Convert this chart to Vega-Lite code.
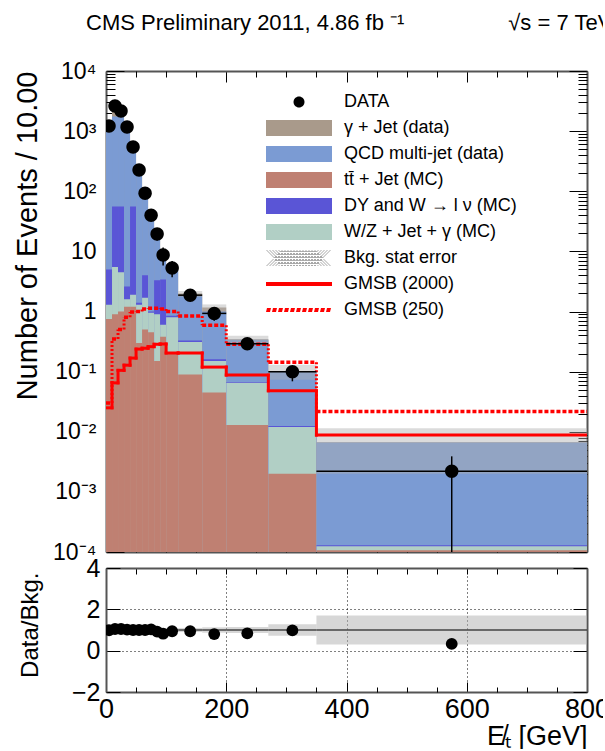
{
  "$schema": "https://vega.github.io/schema/vega-lite/v6.json",
  "background": "white",
  "padding": {"left": 12, "top": 12, "right": -10, "bottom": 0},
  "datasets": {
    "bins": [
      {"lo": 0, "hi": 10, "data": 1216, "dlo": 1181, "dhi": 1251, "gjet": 1230, "qcd": 1000, "dy": 5, "wz": 1.3, "tt": 0.75, "err": 0.02, "g2000": 0.025, "g250": 0.03},
      {"lo": 10, "hi": 20, "data": 2620, "dlo": 2569, "dhi": 2671, "gjet": 2500, "qcd": 1750, "dy": 56, "wz": 5.5, "tt": 0.9, "err": 0.02, "g2000": 0.065, "g250": 0.35},
      {"lo": 20, "hi": 30, "data": 2160, "dlo": 2114, "dhi": 2206, "gjet": 2060, "qcd": 1700, "dy": 56, "wz": 4.5, "tt": 1.0, "err": 0.02, "g2000": 0.105, "g250": 0.5},
      {"lo": 30, "hi": 40, "data": 1170, "dlo": 1136, "dhi": 1204, "gjet": 1150, "qcd": 950, "dy": 2.6, "wz": 1.6, "tt": 1.2, "err": 0.02, "g2000": 0.128, "g250": 0.8},
      {"lo": 40, "hi": 50, "data": 543, "dlo": 520, "dhi": 566, "gjet": 543, "qcd": 450, "dy": 56, "wz": 1.9, "tt": 1.2, "err": 0.02, "g2000": 0.168, "g250": 0.98},
      {"lo": 50, "hi": 60, "data": 225, "dlo": 210, "dhi": 240, "gjet": 225, "qcd": 190, "dy": 1.4, "wz": 1.3, "tt": 0.3, "err": 0.03, "g2000": 0.237, "g250": 1.0},
      {"lo": 60, "hi": 70, "data": 93, "dlo": 83.4, "dhi": 102.6, "gjet": 93, "qcd": 80, "dy": 4.0, "wz": 1.7, "tt": 0.5, "err": 0.03, "g2000": 0.245, "g250": 1.1},
      {"lo": 70, "hi": 80, "data": 40, "dlo": 33.7, "dhi": 46.3, "gjet": 38.8, "qcd": 33, "dy": 1.0, "wz": 0.95, "tt": 0.45, "err": 0.04, "g2000": 0.26, "g250": 1.13},
      {"lo": 80, "hi": 90, "data": 19.5, "dlo": 15.1, "dhi": 23.9, "gjet": 21.2, "qcd": 17, "dy": 3.3, "wz": 0.9, "tt": 0.15, "err": 0.05, "g2000": 0.285, "g250": 1.13},
      {"lo": 90, "hi": 100, "data": 8.7, "dlo": 5.8, "dhi": 11.6, "gjet": 10.6, "qcd": 9.5, "dy": 3.4, "wz": 0.6, "tt": 0.38, "err": 0.07, "g2000": 0.288, "g250": 1.1},
      {"lo": 100, "hi": 120, "data": 5.3, "dlo": 3.7, "dhi": 6.9, "gjet": 5.64, "qcd": 5.0, "dy": 0.85, "wz": 0.8, "tt": 0.2, "err": 0.08, "g2000": 0.204, "g250": 1.0},
      {"lo": 120, "hi": 160, "data": 1.87, "dlo": 1.53, "dhi": 2.21, "gjet": 1.99, "qcd": 1.8, "dy": 0.33, "wz": 0.31, "tt": 0.09, "err": 0.1, "g2000": 0.204, "g250": 0.84},
      {"lo": 160, "hi": 200, "data": 0.93, "dlo": 0.7, "dhi": 1.16, "gjet": 1.16, "qcd": 1.0, "dy": 0.16, "wz": 0.15, "tt": 0.045, "err": 0.13, "g2000": 0.119, "g250": 0.59},
      {"lo": 200, "hi": 270, "data": 0.29, "dlo": 0.23, "dhi": 0.35, "gjet": 0.345, "qcd": 0.34, "dy": 0.067, "wz": 0.065, "tt": 0.013, "err": 0.15, "g2000": 0.0875, "g250": 0.285},
      {"lo": 270, "hi": 350, "data": 0.1, "dlo": 0.069, "dhi": 0.124, "gjet": 0.102, "qcd": 0.101, "dy": 0.0125, "wz": 0.012, "tt": 0.002, "err": 0.28, "g2000": 0.048, "g250": 0.143},
      {"lo": 350, "hi": 800, "data": 0.0022, "dlo": 0.00001, "dhi": 0.0039, "gjet": 0.0067, "qcd": 0.0066, "dy": 0.00013, "wz": 0.000125, "tt": 0.000107, "err": 0.7, "g2000": 0.0088, "g250": 0.0217}
    ]
  },
  "title": {
    "text": "CMS Preliminary 2011, 4.86 fb ⁻¹\u00a0\u00a0\u00a0\u00a0\u00a0\u00a0\u00a0\u00a0\u00a0\u00a0\u00a0\u00a0\u00a0\u00a0\u00a0\u00a0\u00a0√s = 7 TeV",
    "anchor": "start",
    "frame": "group",
    "font": "Liberation Sans",
    "fontSize": 22,
    "fontWeight": "normal",
    "color": "black",
    "offset": 25,
    "dx": -20
  },
  "spacing": 16,
  "bounds": "flush",
  "vconcat": [
    {
      "width": 481,
      "height": 481,
      "data": {"name": "bins"},
      "layer": [
        {
          "transform": [{"fold": ["gjet", "qcd", "dy", "wz", "tt"], "as": ["process", "top"]}],
          "mark": {"type": "rect", "clip": true, "opacity": 1},
          "encoding": {
            "x": {"field": "lo", "type": "quantitative", "scale": {"domain": [0, 800], "nice": false},
                  "axis": {"orient": "bottom", "values": [0, 200, 400, 600, 800], "tickSize": -11, "labels": false, "domain": true, "title": null}},
            "x2": {"field": "hi"},
            "y": {"field": "top", "type": "quantitative", "scale": {"type": "log", "domain": [0.0001, 10000], "nice": false},
                  "axis": {"orient": "left", "values": [0.0001, 0.001, 0.01, 0.1, 1, 10, 100, 1000, 10000], "tickSize": -18, "domain": true,
                           "labelExpr": "datum.value == 1 ? '1' : datum.value == 10 ? '10' : '10' + (datum.value < 1 ? '⁻' : '') + ['⁰','¹','²','³','⁴'][abs(round(log(datum.value) / LN10))]",
                           "labelFontSize": 23, "labelPadding": 28,
                           "title": "Number of Events / 10.00", "titleFontSize": 29, "titleAngle": -90, "titleAlign": "right", "titleBaseline": "alphabetic", "titleX": -70, "titleY": 0}},
            "y2": {"datum": 0.0001},
            "color": {"field": "process", "type": "nominal",
                      "scale": {"domain": ["DATA", "gjet", "qcd", "tt", "dy", "wz", "bkgerr", "g2000", "g250"],
                                "range": ["#000000", "#a99a8b", "#7b9bd3", "#bf8072", "#5a55d6", "#b1cfc5", "#a8a8a8", "#ff0000", "#ff0000"]},
                      "legend": {"title": null, "orient": "none", "legendX": 184, "legendY": 22,
                                 "labelExpr": "datum.label == 'gjet' ? 'γ + Jet (data)' : datum.label == 'qcd' ? 'QCD multi-jet (data)' : datum.label == 'tt' ? 'tt̄ + Jet (MC)' : datum.label == 'dy' ? 'DY and W → l ν (MC)' : datum.label == 'wz' ? 'W/Z + Jet + γ (MC)' : datum.label == 'bkgerr' ? 'Bkg. stat error' : datum.label == 'g2000' ? 'GMSB (2000)' : datum.label == 'g250' ? 'GMSB (250)' : 'DATA'"}}
          }
        },
        {
          "transform": [
            {"calculate": "datum.gjet * (1 - datum.err)", "as": "blo"},
            {"calculate": "datum.gjet * (1 + datum.err)", "as": "bhi"}
          ],
          "mark": {"type": "rect", "clip": true, "color": "#b0b0b0", "opacity": 0.45},
          "encoding": {
            "x": {"field": "lo", "type": "quantitative", "scale": {"domain": [0, 800], "nice": false},
                  "axis": {"orient": "bottom", "values": [50, 100, 150, 250, 300, 350, 450, 500, 550, 650, 700, 750], "tickSize": -6, "labels": false, "domain": false, "title": null}},
            "x2": {"field": "hi"},
            "y": {"field": "blo", "type": "quantitative", "scale": {"type": "log", "domain": [0.0001, 10000], "nice": false},
                  "axis": {"orient": "left", "values": [0.0002,0.0003,0.0004,0.0005,0.0006,0.0007,0.0008,0.0009,0.002,0.003,0.004,0.005,0.006,0.007,0.008,0.009,0.02,0.03,0.04,0.05,0.06,0.07,0.08,0.09,0.2,0.3,0.4,0.5,0.6,0.7,0.8,0.9,2,3,4,5,6,7,8,9,20,30,40,50,60,70,80,90,200,300,400,500,600,700,800,900,2000,3000,4000,5000,6000,7000,8000,9000],
                           "tickSize": -9, "labels": false, "domain": false, "title": null}},
            "y2": {"field": "bhi"}
          }
        },
        {
          "mark": {"type": "rule", "clip": true, "color": "#ff0000", "strokeWidth": 3, "strokeCap": "square"},
          "encoding": {
            "x": {"field": "lo", "type": "quantitative", "scale": {"domain": [0, 800], "nice": false},
                  "axis": {"orient": "top", "values": [0, 200, 400, 600, 800], "tickSize": -11, "labels": false, "domain": true, "title": null}},
            "x2": {"field": "hi"},
            "y": {"field": "g2000", "type": "quantitative", "scale": {"type": "log", "domain": [0.0001, 10000], "nice": false},
                  "axis": {"orient": "right", "values": [0.0001, 0.001, 0.01, 0.1, 1, 10, 100, 1000, 10000], "tickSize": -18, "labels": false, "domain": true, "title": null}}
          }
        },
        {
          "transform": [
            {"window": [{"op": "lead", "field": "g2000", "as": "n2000"}], "sort": [{"field": "lo", "order": "ascending"}]},
            {"filter": "isValid(datum.n2000)"}
          ],
          "mark": {"type": "rule", "clip": true, "color": "#ff0000", "strokeWidth": 3, "strokeCap": "square"},
          "encoding": {
            "x": {"field": "hi", "type": "quantitative", "scale": {"domain": [0, 800], "nice": false},
                  "axis": {"orient": "top", "values": [50, 100, 150, 250, 300, 350, 450, 500, 550, 650, 700, 750], "tickSize": -6, "labels": false, "domain": false, "title": null}},
            "y": {"field": "g2000", "type": "quantitative", "scale": {"type": "log", "domain": [0.0001, 10000], "nice": false},
                  "axis": {"orient": "right", "values": [0.0002,0.0003,0.0004,0.0005,0.0006,0.0007,0.0008,0.0009,0.002,0.003,0.004,0.005,0.006,0.007,0.008,0.009,0.02,0.03,0.04,0.05,0.06,0.07,0.08,0.09,0.2,0.3,0.4,0.5,0.6,0.7,0.8,0.9,2,3,4,5,6,7,8,9,20,30,40,50,60,70,80,90,200,300,400,500,600,700,800,900,2000,3000,4000,5000,6000,7000,8000,9000],
                           "tickSize": -9, "labels": false, "domain": false, "title": null}},
            "y2": {"field": "n2000"}
          }
        },
        {
          "mark": {"type": "rule", "clip": true, "color": "#ff0000", "strokeWidth": 3.5, "strokeDash": [4, 2]},
          "encoding": {
            "x": {"field": "lo", "type": "quantitative", "scale": {"domain": [0, 800], "nice": false}, "axis": null},
            "x2": {"field": "hi"},
            "y": {"field": "g250", "type": "quantitative", "scale": {"type": "log", "domain": [0.0001, 10000], "nice": false}, "axis": null}
          }
        },
        {
          "transform": [
            {"window": [{"op": "lead", "field": "g250", "as": "n250"}], "sort": [{"field": "lo", "order": "ascending"}]},
            {"filter": "isValid(datum.n250)"}
          ],
          "mark": {"type": "rule", "clip": true, "color": "#ff0000", "strokeWidth": 3, "strokeDash": [2, 2]},
          "encoding": {
            "x": {"field": "hi", "type": "quantitative", "scale": {"domain": [0, 800], "nice": false}, "axis": null},
            "y": {"field": "g250", "type": "quantitative", "scale": {"type": "log", "domain": [0.0001, 10000], "nice": false}, "axis": null},
            "y2": {"field": "n250"}
          }
        },
        {
          "transform": [{"calculate": "(datum.lo + datum.hi) / 2", "as": "mid"}],
          "mark": {"type": "rule", "clip": true, "color": "black", "strokeWidth": 1.5},
          "encoding": {
            "x": {"field": "mid", "type": "quantitative", "scale": {"domain": [0, 800], "nice": false}, "axis": null},
            "y": {"field": "dlo", "type": "quantitative", "scale": {"type": "log", "domain": [0.0001, 10000], "nice": false}, "axis": null},
            "y2": {"field": "dhi"}
          }
        },
        {
          "mark": {"type": "rule", "clip": true, "color": "black", "strokeWidth": 1.5},
          "encoding": {
            "x": {"field": "lo", "type": "quantitative", "scale": {"domain": [0, 800], "nice": false}, "axis": null},
            "x2": {"field": "hi"},
            "y": {"field": "data", "type": "quantitative", "scale": {"type": "log", "domain": [0.0001, 10000], "nice": false}, "axis": null}
          }
        },
        {
          "transform": [{"calculate": "(datum.lo + datum.hi) / 2", "as": "mid"}],
          "mark": {"type": "point", "filled": true, "opacity": 1, "size": 150, "strokeWidth": 0, "clip": true},
          "encoding": {
            "x": {"field": "mid", "type": "quantitative", "scale": {"domain": [0, 800], "nice": false}, "axis": null},
            "y": {"field": "data", "type": "quantitative", "scale": {"type": "log", "domain": [0.0001, 10000], "nice": false}, "axis": null},
            "color": {"datum": "DATA", "type": "nominal"},
            "shape": {"datum": "DATA", "type": "nominal",
                      "scale": {"domain": ["DATA", "gjet", "qcd", "tt", "dy", "wz", "bkgerr", "g2000", "g250"],
                                "range": [
                                  "M-1.1,0A1.1,1.1,0,1,0,1.1,0A1.1,1.1,0,1,0,-1.1,0Z",
                                  "M-6.6,-1.6H6.6V1.6H-6.6Z",
                                  "M-6.6,-1.6H6.6V1.6H-6.6Z",
                                  "M-6.6,-1.6H6.6V1.6H-6.6Z",
                                  "M-6.6,-1.6H6.6V1.6H-6.6Z",
                                  "M-6.6,-1.6H6.6V1.6H-6.6Z",
                                  "M-6.6,1.6l3.2,-3.2h0.2l-3.2,3.2zM-6,1.6l3.2,-3.2h0.2l-3.2,3.2zM-5.4,1.6l3.2,-3.2h0.2l-3.2,3.2zM-4.8,1.6l3.2,-3.2h0.2l-3.2,3.2zM-4.2,1.6l3.2,-3.2h0.2l-3.2,3.2zM-3.6,1.6l3.2,-3.2h0.2l-3.2,3.2zM-3,1.6l3.2,-3.2h0.2l-3.2,3.2zM-2.4,1.6l3.2,-3.2h0.2l-3.2,3.2zM-1.8,1.6l3.2,-3.2h0.2l-3.2,3.2zM-1.2,1.6l3.2,-3.2h0.2l-3.2,3.2zM-0.6,1.6l3.2,-3.2h0.2l-3.2,3.2zM0,1.6l3.2,-3.2h0.2l-3.2,3.2zM0.6,1.6l3.2,-3.2h0.2l-3.2,3.2zM1.2,1.6l3.2,-3.2h0.2l-3.2,3.2zM1.8,1.6l3.2,-3.2h0.2l-3.2,3.2zM2.4,1.6l3.2,-3.2h0.2l-3.2,3.2zM3,1.6l3.2,-3.2h0.2l-3.2,3.2zM-6.6,-1.6l3.2,3.2h0.2l-3.2,-3.2zM-6,-1.6l3.2,3.2h0.2l-3.2,-3.2zM-5.4,-1.6l3.2,3.2h0.2l-3.2,-3.2zM-4.8,-1.6l3.2,3.2h0.2l-3.2,-3.2zM-4.2,-1.6l3.2,3.2h0.2l-3.2,-3.2zM-3.6,-1.6l3.2,3.2h0.2l-3.2,-3.2zM-3,-1.6l3.2,3.2h0.2l-3.2,-3.2zM-2.4,-1.6l3.2,3.2h0.2l-3.2,-3.2zM-1.8,-1.6l3.2,3.2h0.2l-3.2,-3.2zM-1.2,-1.6l3.2,3.2h0.2l-3.2,-3.2zM-0.6,-1.6l3.2,3.2h0.2l-3.2,-3.2zM0,-1.6l3.2,3.2h0.2l-3.2,-3.2zM0.6,-1.6l3.2,3.2h0.2l-3.2,-3.2zM1.2,-1.6l3.2,3.2h0.2l-3.2,-3.2zM1.8,-1.6l3.2,3.2h0.2l-3.2,-3.2zM2.4,-1.6l3.2,3.2h0.2l-3.2,-3.2zM3,-1.6l3.2,3.2h0.2l-3.2,-3.2z",
                                  "M-6.6,-0.4H6.6V0.4H-6.6Z",
                                  "M-6.6,0.4h0.8l0.2,-0.8h-0.8zM-5.4,0.4h0.8l0.2,-0.8h-0.8zM-4.2,0.4h0.8l0.2,-0.8h-0.8zM-3,0.4h0.8l0.2,-0.8h-0.8zM-1.8,0.4h0.8l0.2,-0.8h-0.8zM-0.6,0.4h0.8l0.2,-0.8h-0.8zM0.6,0.4h0.8l0.2,-0.8h-0.8zM1.8,0.4h0.8l0.2,-0.8h-0.8zM3,0.4h0.8l0.2,-0.8h-0.8zM4.2,0.4h0.8l0.2,-0.8h-0.8zM5.4,0.4h0.8l0.2,-0.8h-0.8z"
                                ]},
                      "legend": {"title": null, "orient": "none", "legendX": 184, "legendY": 22,
                                 "labelExpr": "datum.label == 'gjet' ? 'γ + Jet (data)' : datum.label == 'qcd' ? 'QCD multi-jet (data)' : datum.label == 'tt' ? 'tt̄ + Jet (MC)' : datum.label == 'dy' ? 'DY and W → l ν (MC)' : datum.label == 'wz' ? 'W/Z + Jet + γ (MC)' : datum.label == 'bkgerr' ? 'Bkg. stat error' : datum.label == 'g2000' ? 'GMSB (2000)' : datum.label == 'g250' ? 'GMSB (250)' : 'DATA'"}}
          }
        }
      ],
      "resolve": {"axis": {"x": "independent", "y": "independent"}}
    },
    {
      "width": 481,
      "height": 124,
      "data": {"name": "bins"},
      "transform": [
        {"calculate": "datum.data / datum.gjet", "as": "ratio"},
        {"calculate": "1 - datum.err", "as": "rlo"},
        {"calculate": "1 + datum.err", "as": "rhi"},
        {"calculate": "(datum.lo + datum.hi) / 2", "as": "mid"}
      ],
      "layer": [
        {
          "mark": {"type": "rect", "color": "#b0b0b0", "opacity": 0.5, "clip": true},
          "encoding": {
            "x": {"field": "lo", "type": "quantitative", "scale": {"domain": [0, 800], "nice": false},
                  "axis": {"orient": "bottom", "values": [0, 200, 400, 600, 800], "tickSize": -10, "labels": true, "labelFontSize": 27, "labelPadding": 14, "domain": true,
                           "grid": true, "gridDash": [1, 3], "gridColor": "black", "gridWidth": 1,
                           "title": "E̸ₜ [GeV]", "titleFontSize": 27, "titleAnchor": "end", "titlePadding": 1}},
            "x2": {"field": "hi"},
            "y": {"field": "rlo", "type": "quantitative", "scale": {"domain": [-2, 4], "nice": false},
                  "axis": {"orient": "left", "values": [-2, 0, 2, 4], "tickSize": -14, "labelFontSize": 25, "labelPadding": 20, "domain": true,
                           "grid": true, "gridDash": [1, 3], "gridColor": "black", "gridWidth": 1,
                           "title": "Data/Bkg.", "titleFontSize": 24, "titleAngle": -90, "titleAlign": "right", "titleBaseline": "alphabetic", "titleX": -69, "titleY": 4}},
            "y2": {"field": "rhi"}
          }
        },
        {
          "mark": {"type": "rule", "color": "#444444", "strokeWidth": 1.5},
          "encoding": {
            "x": {"field": "lo", "type": "quantitative", "scale": {"domain": [0, 800], "nice": false},
                  "axis": {"orient": "bottom", "values": [50, 100, 150, 250, 300, 350, 450, 500, 550, 650, 700, 750], "tickSize": -5, "labels": false, "domain": false, "title": null}},
            "x2": {"field": "hi"},
            "y": {"datum": 1, "type": "quantitative", "scale": {"domain": [-2, 4], "nice": false},
                  "axis": {"orient": "right", "values": [-2, 0, 2, 4], "tickSize": -14, "labels": false, "domain": true, "title": null}}
          }
        },
        {
          "mark": {"type": "point", "shape": "circle", "filled": true, "opacity": 1, "size": 140, "color": "black", "clip": true},
          "encoding": {
            "x": {"field": "mid", "type": "quantitative", "scale": {"domain": [0, 800], "nice": false},
                  "axis": {"orient": "top", "values": [0, 50, 100, 150, 200, 250, 300, 350, 400, 450, 500, 550, 600, 650, 700, 750, 800], "tickSize": -6, "labels": false, "domain": true, "title": null}},
            "y": {"field": "ratio", "type": "quantitative", "scale": {"domain": [-2, 4], "nice": false}, "axis": null}
          }
        }
      ],
      "resolve": {"axis": {"x": "independent", "y": "independent"}}
    }
  ],
  "config": {
    "view": {"stroke": null},
    "font": "Liberation Sans",
    "axis": {
      "labelFont": "Liberation Sans", "titleFont": "Liberation Sans", "titleFontWeight": "normal",
      "labelColor": "black", "titleColor": "black", "tickColor": "black", "tickWidth": 1,
      "domainColor": "#555555", "domainWidth": 2, "grid": false, "labelOverlap": false, "labelFlush": false, "zindex": 2
    },
    "legend": {
      "padding": 0, "symbolSize": 100, "symbolStrokeWidth": 0, "symbolOpacity": 1,
      "labelFont": "Liberation Sans", "labelFontSize": 18, "labelColor": "black", "labelOffset": 36, "labelLimit": 400,
      "rowPadding": 8
    }
  }
}
